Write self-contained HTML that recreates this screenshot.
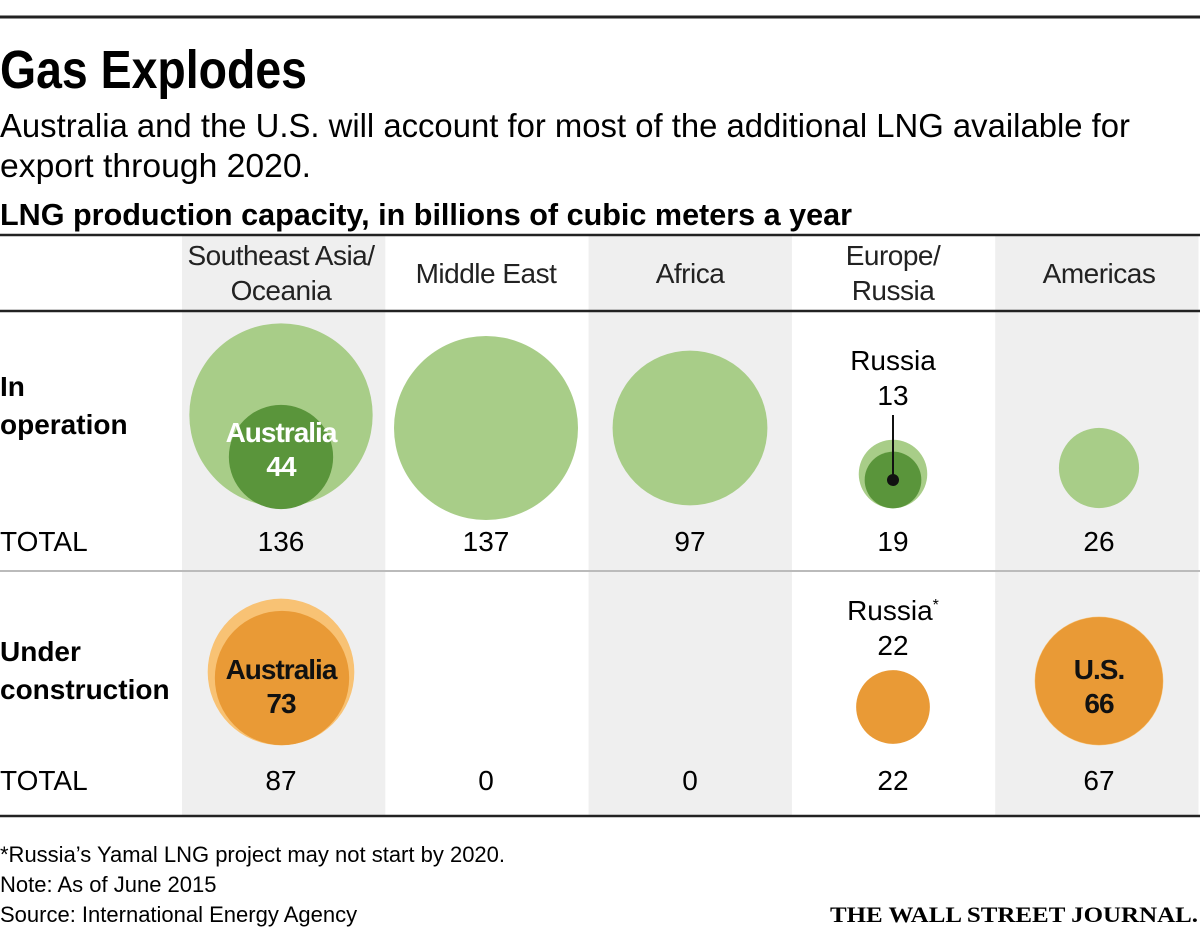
<!DOCTYPE html>
<html><head><meta charset="utf-8">
<style>
html,body{margin:0;padding:0;background:#fff;}
svg{display:block;font-family:"Liberation Sans Narrow","Liberation Sans",sans-serif;}
</style></head>
<body>
<svg id="chart" width="1200" height="933" viewBox="0 0 1200 933" xmlns="http://www.w3.org/2000/svg">
  <rect x="0" y="0" width="1200" height="933" fill="#fff"/>
  <g id="shade"></g>
  <line x1="0" y1="17" x2="1200" y2="17" stroke="#222" stroke-width="3"/>
  <text x="0" y="88" font-size="54" font-weight="bold" textLength="307" lengthAdjust="spacingAndGlyphs">Gas Explodes</text>
  <text x="0" y="137" font-size="33" textLength="1130" lengthAdjust="spacingAndGlyphs">Australia and the U.S. will account for most of the additional LNG available for</text>
  <text x="0" y="177" font-size="33" textLength="311" lengthAdjust="spacingAndGlyphs">export through 2020.</text>
  <text x="0" y="225" font-size="31" font-weight="bold" textLength="852" lengthAdjust="spacingAndGlyphs">LNG production capacity, in billions of cubic meters a year</text>
  <line x1="0" y1="235" x2="1200" y2="235" stroke="#222" stroke-width="2.5"/>
  <line x1="0" y1="311" x2="1200" y2="311" stroke="#222" stroke-width="2.5"/>
  <line x1="0" y1="571" x2="1200" y2="571" stroke="#bbb" stroke-width="2"/>
  <line x1="0" y1="816" x2="1200" y2="816" stroke="#222" stroke-width="2.5"/>
  <g id="headers"></g>
  <text x="0" y="396" font-size="28" font-weight="bold"><tspan x="0">In</tspan><tspan x="0" dy="38">operation</tspan></text>
  <text x="0" y="661" font-size="28" font-weight="bold"><tspan x="0">Under</tspan><tspan x="0" dy="38">construction</tspan></text>
  <text x="0" y="551" font-size="28">TOTAL</text>
  <text x="0" y="790" font-size="28">TOTAL</text>
  <g id="marks"></g>
  <text x="0" y="862" font-size="22">*Russia’s Yamal LNG project may not start by 2020.</text>
  <text x="0" y="892" font-size="22">Note: As of June 2015</text>
  <text x="0" y="922" font-size="22">Source: International Energy Agency</text>
  <text x="1198" y="922" font-size="22" font-weight="bold" text-anchor="end" font-family="'Liberation Serif',serif" textLength="368" lengthAdjust="spacingAndGlyphs">THE WALL STREET JOURNAL.</text>
</svg>
<script>
const regions = ["Southeast Asia/\nOceania","Middle East","Africa","Europe/\nRussia","Americas"];
const operationTotals = [136,137,97,19,26];
const constructionTotals = [87,0,0,22,67];
const operationHighlight = [44,null,null,13,null];
const constructionHighlight = [73,null,null,22,66];
const operationHighlightLabels = ["Australia",null,null,"Russia",null];
const constructionHighlightLabels = ["Australia",null,null,"Russia*","U.S."];

const NS="http://www.w3.org/2000/svg";
const colLeft=182, colW=203.3;
const colCenters=[281,486,690,893,1099];
const colX=i=>colCenters[i];
const rScale=v=>92*Math.sqrt(v/137);
// layout: vertical centre of each bubble row
const opCY=[415,428,428,474,468];
const opHiCY=[457,null,null,480,null];
const coCY=[672,null,null,707,681];
const coHiCY=[678,null,null,707,681];

function mk(tag,attrs,parent){const e=document.createElementNS(NS,tag);for(const k in attrs)e.setAttribute(k,attrs[k]);parent.appendChild(e);return e;}
const shade=document.getElementById('shade');
const headers=document.getElementById('headers');
const marks=document.getElementById('marks');

regions.forEach((name,i)=>{
  if(i%2===0){
    const r=mk('rect',{x:colLeft+colW*i,y:236,width:colW,height:579,fill:'#efefef'},shade);
    
    
  }
  const lines=name.split("\n");
  const t=mk('text',{x:colX(i),'font-size':28,'text-anchor':'middle',fill:'#222','letter-spacing':'-0.5'},headers);
  
  
  const y0=lines.length>1?265:283;
  lines.forEach((l,j)=>{const s=mk('tspan',{x:colX(i),y:y0+j*35},t);s.textContent=l;});

  const cx=colX(i);
  if(operationTotals[i]>0){
    const c=mk('circle',{cx:cx,cy:opCY[i],r:rScale(operationTotals[i]),fill:'#a8cd88'},marks);
    
    
  }
  if(operationHighlight[i]!=null){
    const c=mk('circle',{cx:cx,cy:opHiCY[i],r:rScale(operationHighlight[i]),fill:'#5a953b'},marks);
    
    
  }
  const tv=mk('text',{x:cx,y:551,'font-size':28,'text-anchor':'middle'},marks);
  
  
  tv.textContent=operationTotals[i];

  if(constructionTotals[i]>0 && constructionHighlight[i]!==constructionTotals[i]){
    const c=mk('circle',{cx:cx,cy:coCY[i],r:rScale(constructionTotals[i]),fill:'#f8c274'},marks);
    
    
  }
  if(constructionHighlight[i]!=null){
    const c=mk('circle',{cx:cx+(i===0?1:0),cy:coHiCY[i],r:rScale(constructionHighlight[i]),fill:'#e99a36'},marks);
    
    
  }
  const tc=mk('text',{x:cx,y:790,'font-size':28,'text-anchor':'middle'},marks);
  
  
  tc.textContent=constructionTotals[i];
});

function inLabel(i,label,val,cy,fill){
  const t=mk('text',{x:colX(i),y:cy-6,'font-size':28,'font-weight':'bold','text-anchor':'middle',fill:fill,'font-family':"'Liberation Sans',sans-serif",'letter-spacing':'-1'},marks);
  
  
  const a=mk('tspan',{x:colX(i)},t);a.textContent=label;
  const b=mk('tspan',{x:colX(i),dy:34},t);b.textContent=val;
}
inLabel(0,operationHighlightLabels[0],operationHighlight[0],448,'#fff');
inLabel(0,constructionHighlightLabels[0],constructionHighlight[0],685,'#111');
inLabel(4,constructionHighlightLabels[4],constructionHighlight[4],685,'#111');

function outLabel(i,label,val,y){
  const t=mk('text',{x:colX(i),y:y,'font-size':28,'text-anchor':'middle'},marks);
  
  
  const a=mk('tspan',{x:colX(i)},t);a.textContent=label.replace('*','');
  if(label.includes('*')){const s=mk('tspan',{'font-size':16,dy:-10},t);s.textContent='*';}
  const b=mk('tspan',{x:colX(i),y:y+35},t);b.textContent=val;
}
outLabel(3,operationHighlightLabels[3],operationHighlight[3],370);
outLabel(3,constructionHighlightLabels[3],constructionHighlight[3],620);
const ln=mk('line',{x1:colX(3),y1:415,x2:colX(3),y2:opHiCY[3],stroke:'#111','stroke-width':2},marks);


const dot=mk('circle',{cx:colX(3),cy:opHiCY[3],r:6,fill:'#111'},marks);


</script>
</body></html>
